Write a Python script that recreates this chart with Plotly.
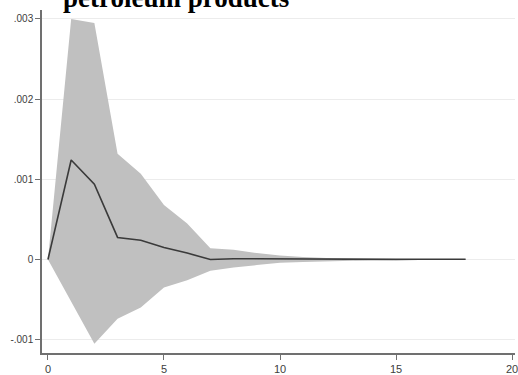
import plotly.graph_objects as go

# Data (impulse response with confidence band)
steps = list(range(0, 19))
irf = [0.0, 0.00124, 0.00094, 0.000275, 0.00024, 0.00015, 0.00008, 0.0, 0.00001,
       0.000008, 0.000005, 0.000004, 0.000003, 0.000002, 0.000002, 0.000002,
       0.000003, 0.000003, 0.000003]
upper = [0.0, 0.00300, 0.00295, 0.00132, 0.00107, 0.00068, 0.00045, 0.00014, 0.00012,
         0.00008, 0.00005, 0.00003, 0.00002, 0.000012, 0.000008, 0.000006,
         0.000006, 0.000006, 0.000006]
lower = [0.0, -0.00053, -0.00105, -0.00074, -0.00060, -0.00035, -0.00026, -0.00014, -0.00010,
         -0.00007, -0.00004, -0.00003, -0.00002, -0.000012, -0.000008, -0.000005,
         -0.000002, -0.000002, -0.000002]
ytick_vals = [-0.001, 0, 0.001, 0.002, 0.003]
ytick_text = ["-.001", "0", ".001", ".002", ".003"]
xtick_vals = [0, 5, 10, 15, 20]
title_text = "petroleum products"

fig = go.Figure()
fig.add_trace(go.Scatter(x=steps, y=upper, mode="lines", line=dict(width=0, color="#c0c0c0"),
                         showlegend=False, hoverinfo="skip"))
fig.add_trace(go.Scatter(x=steps, y=lower, mode="lines", line=dict(width=0, color="#c0c0c0"),
                         fill="tonexty", fillcolor="#c0c0c0", showlegend=False, hoverinfo="skip"))
fig.add_trace(go.Scatter(x=steps, y=irf, mode="lines", line=dict(width=1.6, color="#3a3a3a"),
                         showlegend=False))

fig.update_layout(
    width=518, height=375,
    margin=dict(l=42, r=0, t=10, b=22),
    paper_bgcolor="white", plot_bgcolor="white",
    xaxis=dict(range=[-0.257, 20.128], tickvals=xtick_vals, showgrid=False, zeroline=False,
               showline=True, linecolor="#707070", linewidth=1.5, ticks="outside", ticklen=5,
               tickcolor="#707070", ticklabeloverflow="allow",
               tickfont=dict(family="Arial", size=11, color="#404040")),
    yaxis=dict(range=[-0.001166, 0.003111], tickvals=ytick_vals, ticktext=ytick_text,
               showgrid=True, gridcolor="#ececec", gridwidth=1, zeroline=False,
               showline=True, linecolor="#707070", linewidth=1.5, ticks="outside", ticklen=5,
               tickcolor="#707070", tickfont=dict(family="Arial", size=10, color="#404040")),
    annotations=[dict(text="<b>" + title_text + "</b>", xref="paper", yref="paper",
                      x=0.2826, y=1.0364, xanchor="center", yanchor="middle", showarrow=False,
                      font=dict(family="Liberation Serif", size=27, color="black"))],
)

fig.write_html("out.html", config={"displayModeBar": False},
               post_script="document.body.style.margin='0';document.body.style.padding='0';")
